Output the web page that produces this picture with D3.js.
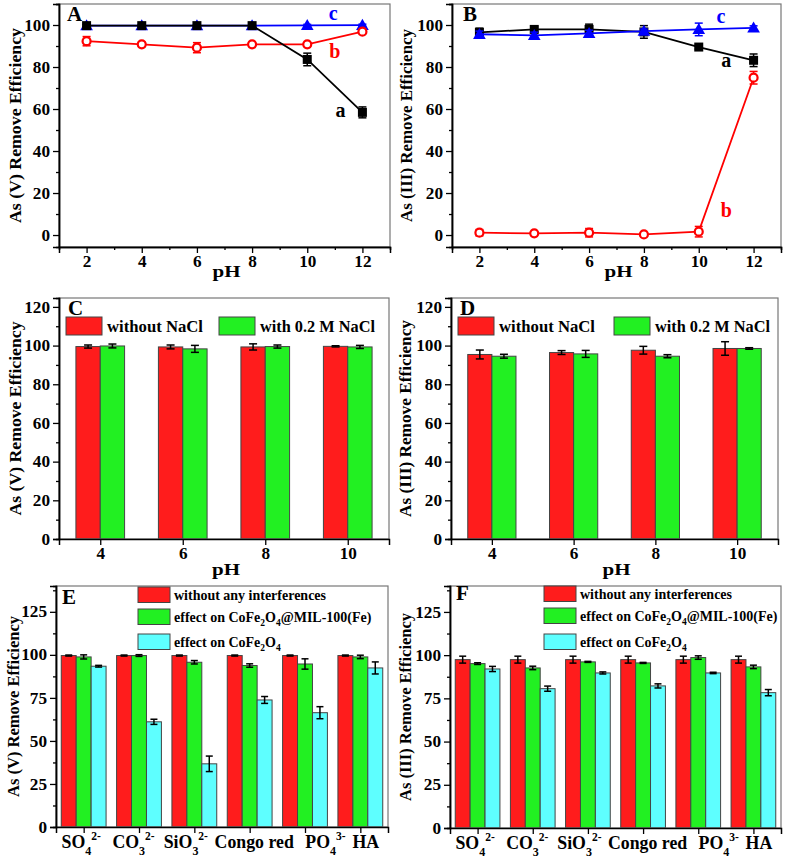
<!DOCTYPE html>
<html>
<head>
<meta charset="utf-8">
<script src="https://cdn.jsdelivr.net/npm/d3@7/dist/d3.min.js"></script>
<style>
  body { margin: 0; background: #fff; }
  text { font-family: "Liberation Serif", "Times New Roman", serif; font-weight: bold; }
</style>
</head>
<body>
<svg id="chart" width="787" height="862"></svg>
<script>
'use strict';

// ---- data: pH series (panels A, B) ----
const phLine = [2, 4, 6, 8, 10, 12];

const aA    = [99.7, 99.7, 99.7, 99.7, 83.6, 58.4];
const aAerr = [0.5, 0.5, 0.5, 0.5, 3.0, 2.6];
const bA    = [92.3, 90.8, 89.2, 90.8, 90.8, 96.8];
const bAerr = [2.2, 1.0, 2.4, 0.5, 0.8, 0.5];
const cA    = [99.7, 99.7, 99.7, 99.7, 99.8, 99.9];
const cAerr = [0.5, 0.5, 0.5, 0.5, 0.5, 0.5];

const aB    = [96.5, 97.9, 97.9, 96.7, 89.5, 83.2];
const aBerr = [2.0, 1.2, 2.5, 3.0, 1.0, 3.0];
const bB    = [1.1, 0.8, 1.1, 0.3, 1.6, 74.9];
const bBerr = [1.5, 0.5, 2.0, 0.3, 2.5, 3.0];
const cB    = [95.6, 95.1, 96.0, 97.1, 97.9, 98.6];
const cBerr = [1.5, 1.5, 1.5, 1.0, 3.0, 1.0];

// ---- data: NaCl bars (panels C, D) ----
const phBar = [4, 6, 8, 10];
const cNo    = [99.5, 99.3, 99.3, 99.6];
const cNoErr = [0.8, 1.0, 1.6, 0.3];
const cNa    = [99.8, 98.3, 99.5, 99.3];
const cNaErr = [1.0, 1.8, 0.8, 0.8];
const dNo    = [95.4, 96.4, 97.6, 98.5];
const dNoErr = [2.3, 1.0, 2.0, 3.5];
const dNa    = [94.5, 95.7, 94.5, 98.5];
const dNaErr = [1.0, 1.8, 0.8, 0.4];

// ---- data: interference bars (panels E, F) ----
const catBase = ['SO', 'CO', 'SiO', 'Congo red', 'PO', 'HA'];
const catSub  = ['4', '3', '3', '', '4', ''];
const catSup  = ['2-', '2-', '2-', '', '3-', ''];

const eNo     = [99.6, 99.6, 99.6, 99.6, 99.6, 99.6];
const eNoErr  = [0.3, 0.3, 0.3, 0.3, 0.3, 0.3];
const eMil    = [98.8, 99.6, 95.7, 93.8, 94.7, 98.8];
const eMilErr = [1.2, 0.5, 1.0, 1.0, 3.0, 1.0];
const eCo     = [93.4, 61.1, 36.7, 73.8, 66.4, 92.4];
const eCoErr  = [0.5, 1.5, 4.5, 2.0, 3.5, 3.5];

const fNo     = [97.4, 97.4, 97.4, 97.4, 97.4, 97.4];
const fNoErr  = [2.0, 2.0, 2.0, 2.0, 2.0, 2.0];
const fMil    = [95.1, 92.6, 96.1, 95.5, 98.6, 93.2];
const fMilErr = [0.5, 1.0, 0.3, 0.3, 1.0, 1.0];
const fCo     = [92.0, 80.6, 89.7, 82.2, 89.7, 78.3];
const fCoErr  = [1.5, 1.5, 0.6, 1.2, 0.4, 1.8];

const RED = '#ff1c1c', GREEN = '#22f022', CYAN = '#5effff';
// category labels sit a little off their ticks in the original layout
const LABEL_NUDGE = [-3, -6, -9, 4, 20, 5];

const svg = d3.select('#chart');

function zip(xs, ys, es) { return xs.map((x, i) => ({ x, y: ys[i], e: es[i] })); }

// the original lettering is set wide; stretch text to the measured width
function stretch(sel, w) {
  sel.attr('textLength', w).attr('lengthAdjust', 'spacingAndGlyphs');
  return sel;
}

// frame + axes shared by all panels
function frameAxes(g, f, x, y, o) {
  g.append('rect')
    .attr('x', f.l).attr('y', f.t).attr('width', f.r - f.l).attr('height', f.b - f.t)
    .attr('fill', 'none').attr('stroke', '#777').attr('stroke-width', 1.2);

  const styleAxis = (sel, fs) => {
    sel.attr('font-family', null).attr('font-size', null);
    sel.select('.domain').attr('stroke', '#000').attr('stroke-width', 1.5);
    sel.selectAll('.tick line').attr('stroke', '#000').attr('stroke-width', 1.3);
    sel.selectAll('text').attr('font-size', fs).attr('fill', '#000')
      .each(function () {
        const n = this.textContent.length;
        if (n) stretch(d3.select(this), n * 8.6);
      });
  };

  g.append('g').attr('transform', `translate(${f.l},0)`)
    .call(d3.axisLeft(y).tickValues(o.yMinor).tickSize(3).tickFormat(''))
    .call(s => styleAxis(s, 0));
  g.append('g').attr('transform', `translate(${f.l},0)`)
    .call(d3.axisLeft(y).tickValues(o.yMajor).tickSize(6).tickPadding(3).tickFormat(d3.format('d')))
    .call(s => styleAxis(s, 16));

  if (o.xMinor) {
    g.append('g').attr('transform', `translate(0,${f.b})`)
      .call(d3.axisBottom(x).tickValues(o.xMinor).tickSize(3).tickFormat(''))
      .call(s => styleAxis(s, 0));
  }
  const xa = g.append('g').attr('transform', `translate(0,${f.b})`)
    .call(d3.axisBottom(x).tickValues(o.xMajor).tickSize(6).tickPadding(2)
      .tickFormat(o.xFormat || d3.format('d')))
    .call(s => styleAxis(s, 16.5));
  if (o.xLabel) o.xLabel(xa);

  stretch(g.append('text')
    .attr('transform', `translate(${o.titleX},${(f.t + f.b) / 2}) rotate(-90)`)
    .attr('text-anchor', 'middle').attr('font-size', o.titleSize)
    .text(o.yTitle), o.titleW);

  if (o.pH) {
    stretch(g.append('text').attr('x', (f.l + f.r) / 2 + 2).attr('y', f.b + o.pH)
      .attr('text-anchor', 'middle').attr('font-size', 17).text('pH'), 28);
  }

  g.append('text').attr('x', f.l + o.letter[1]).attr('y', f.t + o.letter[2])
    .attr('font-size', 21).text(o.letter[0]);
}

// ---------- line panels ----------
function linePanel(f, o) {
  const g = svg.append('g');
  const x = d3.scaleLinear().domain([1, 13]).range([f.l, f.r]);
  const y = d3.scaleLinear().domain([-5.7, 110]).range([f.b, f.t]);

  frameAxes(g, f, x, y, {
    yMajor: d3.range(0, 101, 20), yMinor: d3.range(10, 111, 20),
    xMajor: phLine, xMinor: [3, 5, 7, 9, 11],
    yTitle: o.yTitle, titleX: o.titleX, titleSize: 16.5, titleW: o.titleW,
    pH: 30, letter: o.letter
  });

  const line = d3.line().x(d => x(d.x)).y(d => y(d.y));

  o.series.forEach(s => {
    const pts = zip(phLine, s.v, s.e);
    const sg = g.append('g');
    sg.append('path').datum(pts).attr('d', line)
      .attr('fill', 'none').attr('stroke', s.color).attr('stroke-width', 1.8);

    const eb = sg.selectAll('.eb').data(pts).join('g');
    eb.append('line').attr('x1', d => x(d.x)).attr('x2', d => x(d.x))
      .attr('y1', d => y(d.y - d.e)).attr('y2', d => y(d.y + d.e));
    eb.append('line').attr('x1', d => x(d.x) - 4).attr('x2', d => x(d.x) + 4)
      .attr('y1', d => y(d.y + d.e)).attr('y2', d => y(d.y + d.e));
    eb.append('line').attr('x1', d => x(d.x) - 4).attr('x2', d => x(d.x) + 4)
      .attr('y1', d => y(d.y - d.e)).attr('y2', d => y(d.y - d.e));
    eb.selectAll('line').attr('stroke', s.color).attr('stroke-width', 1.5);

    if (s.shape === 'square') {
      sg.selectAll('.m').data(pts).join('rect')
        .attr('x', d => x(d.x) - 4.5).attr('y', d => y(d.y) - 4.5)
        .attr('width', 9).attr('height', 9).attr('fill', s.color);
    } else if (s.shape === 'circle') {
      sg.selectAll('.m').data(pts).join('circle')
        .attr('cx', d => x(d.x)).attr('cy', d => y(d.y)).attr('r', 4)
        .attr('fill', '#fff').attr('stroke', s.color).attr('stroke-width', 2.2);
    } else {
      sg.selectAll('.m').data(pts).join('path')
        .attr('d', d3.symbol(d3.symbolTriangle, 70))
        .attr('transform', d => `translate(${x(d.x)},${y(d.y) + 1})`)
        .attr('fill', s.color);
    }
  });

  o.labels.forEach(l => {
    g.append('text').attr('x', x(l.x)).attr('y', y(l.y))
      .attr('font-size', 20).attr('fill', l.color).text(l.t);
  });
}

linePanel({ l: 59, t: 4, r: 390, b: 247 }, {
  yTitle: 'As (V) Remove Efficiency', titleX: 21, titleW: 195, letter: ['A', 8, 17],
  series: [
    { v: cA, e: cAerr, color: '#0000ff', shape: 'triangle' },
    { v: bA, e: bAerr, color: '#ff0000', shape: 'circle' },
    { v: aA, e: aAerr, color: '#000', shape: 'square' }
  ],
  labels: [
    { t: 'c', x: 10.78, y: 102.6, color: '#0000ff' },
    { t: 'b', x: 10.8, y: 84.3, color: '#ff0000' },
    { t: 'a', x: 11.02, y: 56.2, color: '#000' }
  ]
});

linePanel({ l: 452, t: 4, r: 781, b: 247 }, {
  yTitle: 'As (III) Remove Efficiency', titleX: 412, titleW: 193, letter: ['B', 11, 17],
  series: [
    { v: bB, e: bBerr, color: '#ff0000', shape: 'circle' },
    { v: aB, e: aBerr, color: '#000', shape: 'square' },
    { v: cB, e: cBerr, color: '#0000ff', shape: 'triangle' }
  ],
  labels: [
    { t: 'c', x: 10.65, y: 101, color: '#0000ff' },
    { t: 'a', x: 10.82, y: 80, color: '#000' },
    { t: 'b', x: 10.8, y: 8.6, color: '#ff0000' }
  ]
});

// ---------- bar helpers ----------
function errBars(g, pts, cap) {
  const eb = g.selectAll(null).data(pts).join('g').attr('stroke', '#000').attr('stroke-width', 1.5);
  eb.append('line').attr('x1', d => d.cx).attr('x2', d => d.cx)
    .attr('y1', d => d.y0).attr('y2', d => d.y1);
  eb.append('line').attr('x1', d => d.cx - cap).attr('x2', d => d.cx + cap)
    .attr('y1', d => d.y0).attr('y2', d => d.y0);
  eb.append('line').attr('x1', d => d.cx - cap).attr('x2', d => d.cx + cap)
    .attr('y1', d => d.y1).attr('y2', d => d.y1);
}

function drawBars(g, x, y, xs, series, bw) {
  const n = series.length;
  series.forEach((s, k) => {
    const off = (k - (n - 1) / 2) * bw;
    const pts = xs.map((xv, i) => ({
      x0: x(xv + off - bw / 2), x1: x(xv + off + bw / 2), cx: x(xv + off),
      top: y(s.v[i]), y0: y(s.v[i] + s.e[i]), y1: y(s.v[i] - s.e[i])
    }));
    g.selectAll(null).data(pts).join('rect')
      .attr('x', d => d.x0).attr('y', d => d.top)
      .attr('width', d => d.x1 - d.x0).attr('height', d => y(0) - d.top)
      .attr('fill', s.color).attr('stroke', '#444').attr('stroke-width', 1);
    errBars(g, pts, s.cap || 4);
  });
}

// ---------- NaCl panels ----------
function naclPanel(f, o) {
  const g = svg.append('g');
  const x = d3.scaleLinear().domain([3, 11]).range([f.l, f.r]);
  const y = d3.scaleLinear().domain([0, 124.6]).range([f.b, f.t]);

  drawBars(g, x, y, phBar, [
    { v: o.no, e: o.noErr, color: RED },
    { v: o.na, e: o.naErr, color: GREEN }
  ], 0.59);

  frameAxes(g, f, x, y, {
    yMajor: d3.range(0, 121, 20), yMinor: d3.range(10, 121, 20),
    xMajor: phBar, yTitle: o.yTitle, titleX: o.titleX, titleSize: 16.5, titleW: o.titleW,
    pH: 36, letter: o.letter
  });

  const lg = g.append('g').attr('transform', `translate(${f.l + 7},${f.t + 19})`);
  [['without NaCl', RED, 0, 96], ['with 0.2 M NaCl', GREEN, o.gx, 115]].forEach(([t, c, dx, w]) => {
    lg.append('rect').attr('x', dx).attr('y', 0).attr('width', 36).attr('height', 18)
      .attr('fill', c).attr('stroke', '#444');
    stretch(lg.append('text').attr('x', dx + 41).attr('y', 14.5).attr('font-size', 16).text(t), w);
  });
}

naclPanel({ l: 59, t: 298, r: 389, b: 539 }, {
  no: cNo, noErr: cNoErr, na: cNa, naErr: cNaErr, gx: 153,
  yTitle: 'As (V) Remove Efficiency', titleX: 21, titleW: 194, letter: ['C', 9, 17]
});
naclPanel({ l: 451, t: 298, r: 778, b: 539 }, {
  no: dNo, noErr: dNoErr, na: dNa, naErr: dNaErr, gx: 156,
  yTitle: 'As (III) Remove Efficiency', titleX: 411, titleW: 197, letter: ['D', 9, 17]
});

// ---------- interference panels ----------
function catLabel(t, i, fs) {
  t.append('tspan').attr('font-size', fs).text(catBase[i]);
  if (catSub[i]) t.append('tspan').attr('font-size', 12).attr('dy', 7).text(catSub[i]);
  if (catSup[i]) t.append('tspan').attr('font-size', 11.5).attr('dy', -15).text(catSup[i]);
}

function interPanel(f, o) {
  const g = svg.append('g');
  const idx = catBase.map((_, i) => i + 1);
  const x = d3.scaleLinear().domain([0.5, 6.5]).range([f.l, f.r]);
  const y = d3.scaleLinear().domain([0, 140]).range([f.b, f.t]);

  drawBars(g, x, y, idx, [
    { v: o.no, e: o.noErr, color: RED, cap: 3.5 },
    { v: o.mil, e: o.milErr, color: GREEN, cap: 3.5 },
    { v: o.co, e: o.coErr, color: CYAN, cap: 3.5 }
  ], 0.27);

  frameAxes(g, f, x, y, {
    yMajor: d3.range(0, 126, 25), yMinor: d3.range(12.5, 140, 25),
    xMajor: idx, xFormat: () => '',
    yTitle: o.yTitle, titleX: o.titleX, titleSize: 16, titleW: o.titleW, letter: o.letter,
    xLabel: xa => {
      xa.selectAll('.tick').each(function (d) {
        const i = d - 1;
        const t = d3.select(this).append('text').attr('x', LABEL_NUDGE[i]).attr('y', 21)
          .attr('fill', '#000').attr('text-anchor', 'middle');
        catLabel(t, i, 17.8);
      });
    }
  });

  const lg = g.append('g').attr('transform', `translate(${f.l + o.lx},${f.t})`);
  const rows = [
    [RED, [['without any interferences', 'n']], o.rows[0]],
    [GREEN, [['effect on CoFe', 'n'], ['2', 'sub'], ['O', 'n'], ['4', 'sub'], ['@MIL-100(Fe)', 'n']], o.rows[1]],
    [CYAN, [['effect on CoFe', 'n'], ['2', 'sub'], ['O', 'n'], ['4', 'sub']], o.rows[2]]
  ];
  rows.forEach(([c, parts, ry], r) => {
    lg.append('rect').attr('x', 0).attr('y', ry).attr('width', 32).attr('height', 15.5)
      .attr('fill', c).attr('stroke', '#444');
    const t = lg.append('text').attr('x', 36).attr('y', ry + 12.5).attr('font-size', 14);
    let low = false;
    parts.forEach(([s, k]) => {
      const sub = k === 'sub';
      const dy = sub && !low ? 4 : (!sub && low ? -4 : 0);
      low = sub;
      t.append('tspan').attr('font-size', sub ? 9.5 : 14).attr('dy', dy).text(s);
    });
    if (r === 0) stretch(t, 152);
  });
}

interPanel({ l: 56, t: 586, r: 388, b: 827 }, {
  no: eNo, noErr: eNoErr, mil: eMil, milErr: eMilErr, co: eCo, coErr: eCoErr,
  yTitle: 'As (V) Remove Efficiency', titleX: 19, titleW: 181, letter: ['E', 6, 18],
  lx: 82, rows: [1, 23, 48]
});
interPanel({ l: 450, t: 586, r: 781, b: 828 }, {
  no: fNo, noErr: fNoErr, mil: fMil, milErr: fMilErr, co: fCo, coErr: fCoErr,
  yTitle: 'As (III) Remove Efficiency', titleX: 411, titleW: 188, letter: ['F', 6, 14],
  lx: 94, rows: [0, 22, 48]
});
</script>
</body>
</html>
